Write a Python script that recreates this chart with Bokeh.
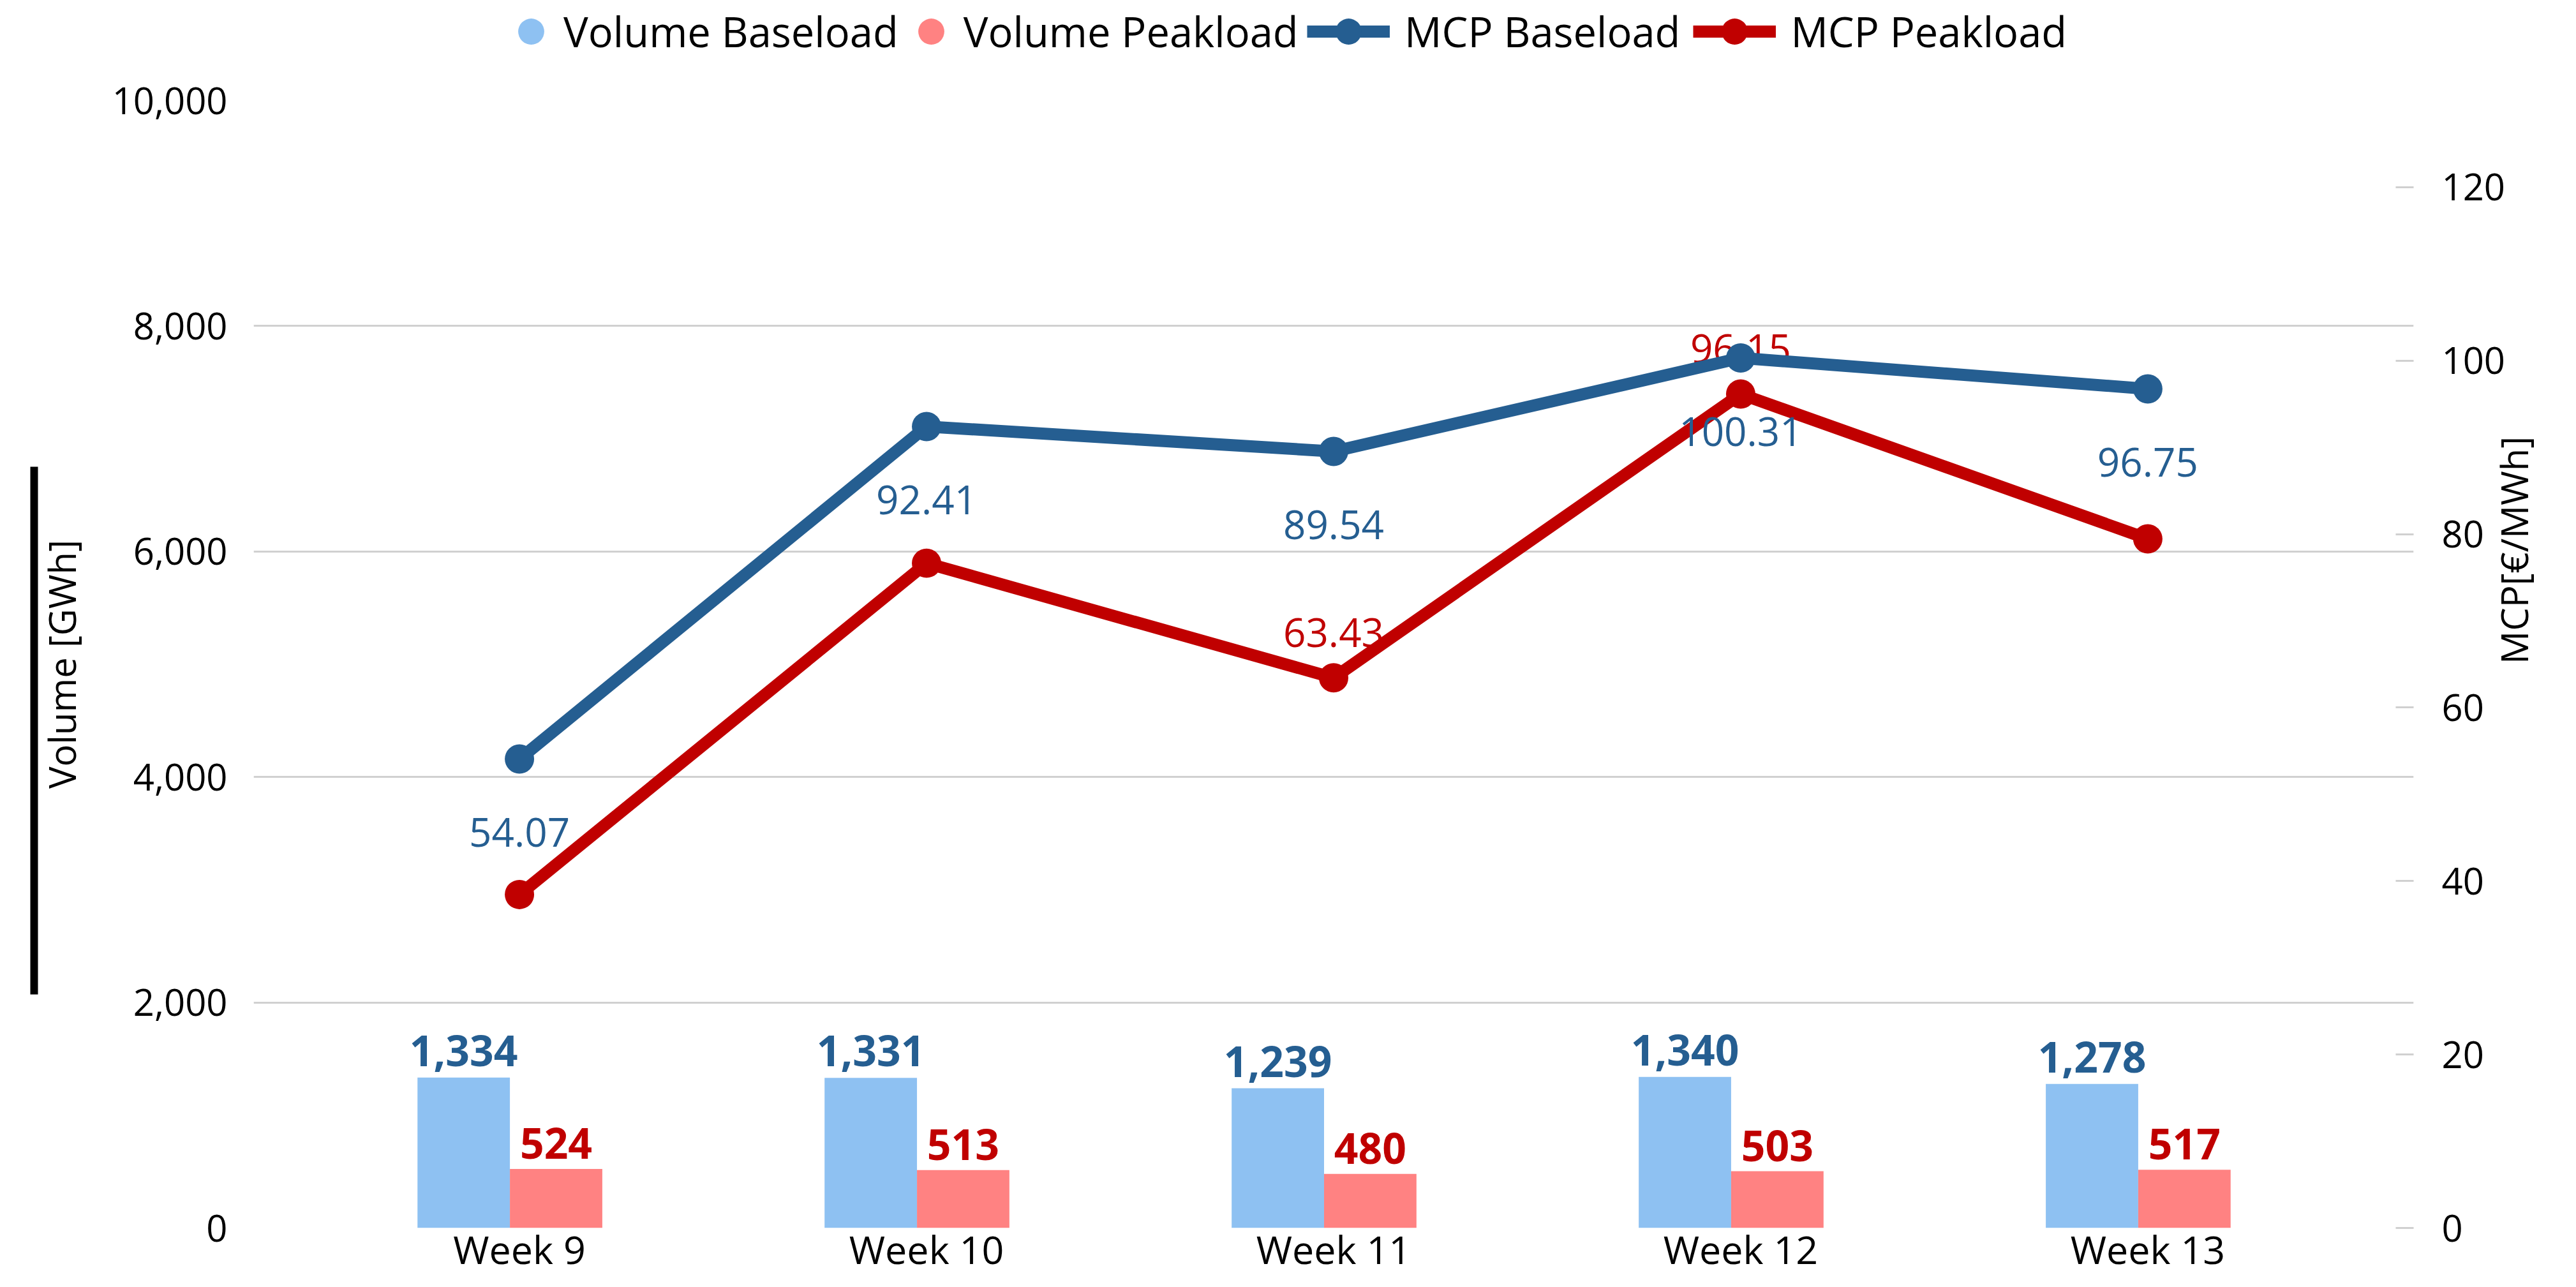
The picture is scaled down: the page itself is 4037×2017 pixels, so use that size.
import math
from bokeh.plotting import figure
from bokeh.layouts import column
from bokeh.models import (Range1d, LinearAxis, FixedTicker, NumeralTickFormatter,
                          Legend, LegendItem)
from bokeh.core.properties import value
from bokeh.embed import file_html
from bokeh.resources import INLINE

# ---------------- data ----------------
weeks = ["Week 9", "Week 10", "Week 11", "Week 12", "Week 13"]
volume_baseload = [1334, 1331, 1239, 1340, 1278]
volume_peakload = [524, 513, 480, 503, 517]
mcp_baseload = [54.07, 92.41, 89.54, 100.31, 96.75]
mcp_peakload = [38.45, 76.65, 63.43, 96.15, 79.46]
mcp_peakload_label_shown = [False, False, True, True, False]
volume_ticks = [0, 2000, 4000, 6000, 8000, 10000]
mcp_ticks = [0, 20, 40, 60, 80, 100, 120]

# ---------------- style ----------------
FONT = "Open Sans"
C_BASE_BAR = "#8EC1F2"
C_PEAK_BAR = "#FF8282"
C_BASE = "#255E91"
C_PEAK = "#C00000"
GRID = "#D0D0D0"
BAR_W = 0.227
BASE_OFF = -0.137
PEAK_OFF = 0.090
W = 4021
LEG_H = 100
MAIN_H = 2001 - LEG_H
FRAME_LEFT = 397

xs = list(range(len(weeks)))
base_x = [x + BASE_OFF for x in xs]
peak_x = [x + PEAK_OFF for x in xs]

# ================= main chart =================
p = figure(width=W, height=MAIN_H, output_backend="svg", toolbar_location=None,
           x_range=Range1d(-0.653, len(weeks) - 1 + 0.653), y_range=Range1d(0, 10000),
           min_border_left=FRAME_LEFT, min_border_right=236, min_border_top=157 - LEG_H,
           min_border_bottom=0)
p.extra_y_ranges = {"mcp": Range1d(0, 130)}
p.outline_line_color = None
p.background_fill_color = "white"
p.border_fill_color = "white"
p.xgrid.visible = False
p.ygrid.ticker = FixedTicker(ticks=volume_ticks)
p.ygrid.grid_line_color = GRID
p.ygrid.grid_line_width = 3

# x axis
xa = p.xaxis[0]
xa.ticker = FixedTicker(ticks=xs, minor_ticks=[])
xa.major_label_overrides = {i: w for i, w in zip(xs, weeks)}
xa.axis_line_color = None
xa.major_tick_line_color = None
xa.minor_tick_line_color = None
xa.major_tick_out = 0
xa.major_label_text_font = FONT
xa.major_label_text_font_size = "61px"
xa.major_label_text_color = "black"
xa.major_label_standoff = -9

# left axis
ya = p.yaxis[0]
ya.ticker = FixedTicker(ticks=volume_ticks, minor_ticks=[])
ya.formatter = NumeralTickFormatter(format="0,0")
ya.axis_line_color = None
ya.major_tick_line_color = None
ya.minor_tick_line_color = None
ya.major_tick_out = 0
ya.major_label_text_font = FONT
ya.major_label_text_font_size = "58px"
ya.major_label_text_color = "black"
ya.major_label_standoff = 41
ya.axis_label = "Volume [GWh]"
ya.axis_label_text_font = FONT
ya.axis_label_text_font_size = "58px"
ya.axis_label_text_font_style = "normal"
ya.axis_label_text_color = "black"
ya.axis_label_standoff = 37

# black marker bar at far left
bar_axis = LinearAxis(ticker=FixedTicker(ticks=[], minor_ticks=[]), bounds=(2074, 6749),
                      axis_line_width=12, axis_line_color="black",
                      major_tick_line_color=None, minor_tick_line_color=None,
                      major_label_text_font_size="0px")
p.add_layout(bar_axis, "left")

# right axis
ra = LinearAxis(y_range_name="mcp", ticker=FixedTicker(ticks=mcp_ticks, minor_ticks=[]))
ra.axis_line_color = None
ra.major_tick_in = 28
ra.major_tick_out = 0
ra.major_tick_line_color = GRID
ra.major_tick_line_width = 3
ra.minor_tick_line_color = None
ra.major_label_text_font = FONT
ra.major_label_text_font_size = "58px"
ra.major_label_text_color = "black"
ra.major_label_standoff = 44
ra.axis_label = "MCP[€/MWh]"
ra.axis_label_orientation = math.pi / 2
ra.axis_label_text_font = FONT
ra.axis_label_text_font_size = "58px"
ra.axis_label_text_font_style = "normal"
ra.axis_label_text_color = "black"
ra.axis_label_standoff = 11
p.add_layout(ra, "right")

# bars
p.vbar(x=base_x, top=volume_baseload, width=BAR_W, fill_color=C_BASE_BAR, line_color=None)
p.vbar(x=peak_x, top=volume_peakload, width=BAR_W, fill_color=C_PEAK_BAR, line_color=None)

# bar labels
p.text(x=base_x, y=volume_baseload, text=[f"{v:,}" for v in volume_baseload],
       text_font=value(FONT), text_font_style="bold", text_font_size="66px",
       text_color=C_BASE, text_align="center", text_baseline="alphabetic", y_offset=-42)
p.text(x=peak_x, y=volume_peakload, text=[f"{v:,}" for v in volume_peakload],
       text_font=value(FONT), text_font_style="bold", text_font_size="66px",
       text_color=C_PEAK, text_align="center", text_baseline="alphabetic", y_offset=-40)

# peak labels (above)
pk = [i for i, s in enumerate(mcp_peakload_label_shown) if s]
p.text(x=[xs[i] for i in pk], y=[mcp_peakload[i] for i in pk],
       text=[f"{mcp_peakload[i]:.2f}" for i in pk], y_range_name="mcp",
       text_font=value(FONT), text_font_size="62px", text_color=C_PEAK,
       text_align="center", text_baseline="alphabetic", y_offset=-71)

# lines
p.line(xs, mcp_baseload, y_range_name="mcp", line_width=19, line_color=C_BASE,
       line_join="round")
p.scatter(xs, mcp_baseload, y_range_name="mcp", size=46, fill_color=C_BASE,
          line_color=None)
p.line(xs, mcp_peakload, y_range_name="mcp", line_width=19, line_color=C_PEAK,
       line_join="round")
p.scatter(xs, mcp_peakload, y_range_name="mcp", size=46, fill_color=C_PEAK,
          line_color=None)

# base labels (below)
p.text(x=xs, y=mcp_baseload, text=[f"{v:.2f}" for v in mcp_baseload], y_range_name="mcp",
       text_font=value(FONT), text_font_size="62px", text_color=C_BASE,
       text_align="center", text_baseline="alphabetic", y_offset=115)

# ================= legend strip =================
lg = figure(width=W, height=LEG_H, output_backend="svg", toolbar_location=None,
            x_range=Range1d(0, 1), y_range=Range1d(0, 1),
            x_axis_location=None, y_axis_location=None, min_border=0)
lg.outline_line_color = None
lg.grid.visible = False
lg.background_fill_color = "white"
lg.border_fill_color = "white"

k_vb = lg.scatter(base_x, volume_baseload, size=41, fill_color=C_BASE_BAR, line_color=None,
                  visible=False)
k_vp = lg.scatter(peak_x, volume_peakload, size=41, fill_color=C_PEAK_BAR, line_color=None,
                  visible=False)
k_bl = lg.line(xs, mcp_baseload, line_width=19, line_color=C_BASE, visible=False)
k_bs = lg.scatter(xs, mcp_baseload, size=46, fill_color=C_BASE, line_color=None,
                  visible=False)
k_rl = lg.line(xs, mcp_peakload, line_width=19, line_color=C_PEAK, visible=False)
k_rs = lg.scatter(xs, mcp_peakload, size=46, fill_color=C_PEAK, line_color=None,
                  visible=False)

common = dict(orientation="horizontal", padding=0, margin=0, border_line_color=None,
              background_fill_alpha=0, inactive_fill_alpha=0,
              label_text_font=FONT, label_text_font_size="65px",
              label_text_color="black", glyph_height=102)
legA = Legend(items=[LegendItem(label="Volume Baseload", renderers=[k_vb]),
                     LegendItem(label="Volume Peakload", renderers=[k_vp])],
              location=(781 - FRAME_LEFT, 0), glyph_width=102, label_standoff=0, spacing=0,
              **common)
legB = Legend(items=[LegendItem(label="MCP Baseload", renderers=[k_bl, k_bs]),
                     LegendItem(label="MCP Peakload", renderers=[k_rl, k_rs])],
              location=(2048 - FRAME_LEFT, 0), glyph_width=130, label_standoff=23, spacing=20,
              **common)
lg.add_layout(legA)
lg.add_layout(legB)

layout = column(lg, p, spacing=0)
open("out.html", "w").write(file_html(layout, INLINE, "chart"))
